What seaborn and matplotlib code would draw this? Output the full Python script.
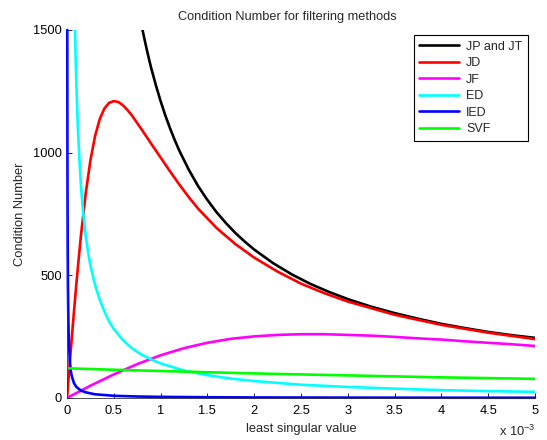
import matplotlib
matplotlib.use("Agg")
import matplotlib.pyplot as plt
import pandas as pd
import seaborn as sns

# least singular value, in units of 1e-3
jp_s = [0.78, 0.8, 0.82, 0.85, 0.88, 0.9, 0.95, 1.0, 1.05, 1.1, 1.15, 1.2,
        1.3, 1.4, 1.5, 1.6, 1.7, 1.8, 1.9, 2.0, 2.2, 2.4, 2.6, 2.8, 3.0,
        3.25, 3.5, 3.75, 4.0, 4.25, 4.5, 4.75, 5.0]
jp_v = [1551, 1513, 1476, 1424, 1375, 1344, 1274, 1210, 1152, 1100, 1052, 1008,
        931, 864, 807, 756, 712, 672, 637, 605, 550, 504, 465, 432, 403,
        372, 346, 323, 302, 285, 269, 256, 245]

jd_s = [0, 0.025, 0.05, 0.075, 0.1, 0.125, 0.15, 0.2, 0.25, 0.3, 0.35, 0.4,
        0.45, 0.5, 0.55, 0.6, 0.65, 0.7, 0.8, 0.9, 1.0, 1.1, 1.2, 1.3, 1.4,
        1.6, 1.8, 2.0, 2.25, 2.5, 2.75, 3.0, 3.5, 4.0, 4.5, 5.0]
jd_v = [0, 121, 240, 355, 465, 568, 666, 834, 968, 1068, 1137, 1180,
        1203, 1210, 1206, 1192, 1172, 1148, 1093, 1036, 980, 924, 870, 819, 772,
        692, 627, 572, 515, 466, 427, 393, 339, 298, 266, 240]

jf_s = [0, 0.1, 0.25, 0.5, 0.75, 1.0, 1.25, 1.5, 1.75, 2.0, 2.25, 2.5, 2.75,
        3.0, 3.25, 3.5, 3.75, 4.0, 4.25, 4.5, 4.75, 5.0]
jf_v = [0, 20, 50, 96, 138, 174, 203, 225, 241, 251, 257, 260, 260,
        257, 254, 249, 243, 238, 231, 225, 219, 212]

ed_s = [0.08, 0.085, 0.09, 0.095, 0.1, 0.11, 0.12, 0.135, 0.15, 0.175, 0.2,
        0.225, 0.25, 0.3, 0.35, 0.4, 0.45, 0.5, 0.6, 0.7, 0.8, 0.9, 1.0,
        1.25, 1.5, 1.75, 2.0, 2.5, 3.0, 3.5, 4.0, 4.5, 5.0]
ed_v = [1600, 1510, 1420, 1345, 1280, 1165, 1070, 955, 860, 745, 660,
        595, 540, 460, 400, 352, 312, 281, 235, 201, 176, 157, 141,
        112, 93, 79, 69, 54, 45, 38, 32, 28, 25]

ied_s = [0.003, 0.004, 0.005, 0.0075, 0.01, 0.015, 0.02, 0.03, 0.04,
         0.05, 0.075, 0.1, 0.15, 0.2, 0.3, 0.5, 0.75, 1.0, 1.5, 2.0, 3.0, 4.0, 5.0]
ied_v = [1500, 1125, 900, 600, 450, 300, 225, 150, 112,
         90, 60, 45, 30, 23, 15, 9, 6, 4.5, 3, 2.2, 1.5, 1.1, 0.9]

svf_s = [0, 0.5, 1.0, 1.5, 2.0, 2.5, 3.0, 3.5, 4.0, 4.5, 5.0]
svf_v = [121, 115, 110, 105, 100, 96, 92, 88, 84, 81, 78]

methods = ["JP and JT", "JD", "JF", "ED", "IED", "SVF"]
colors = ["#000000", "#ff0000", "#ff00ff", "#00ffff", "#0000ff", "#00ff00"]
series = [(jp_s, jp_v), (jd_s, jd_v), (jf_s, jf_v), (ed_s, ed_v),
          (ied_s, ied_v), (svf_s, svf_v)]

frames = []
for name, (s, v) in zip(methods, series):
    frames.append(pd.DataFrame({"s": s, "cond": v, "method": name}))
df = pd.concat(frames, ignore_index=True)

sns.set_style("ticks")
plt.rcParams["font.family"] = ["Liberation Sans", "DejaVu Sans"]
plt.rcParams["mathtext.fontset"] = "custom"
plt.rcParams["mathtext.rm"] = "Liberation Sans"

fig = plt.figure(figsize=(5.47, 4.40), dpi=100)
ax = fig.add_axes([0.1225, 0.0955, 0.8555, 0.8365])

sns.lineplot(data=df, x="s", y="cond", hue="method", hue_order=methods,
             palette=colors, linewidth=1.9, errorbar=None, ax=ax)

# the IED line hugs the y axis; keep it fully visible like the original
ax.get_lines()[4].set_clip_on(False)

ax.set_xlim(0, 5)
ax.set_ylim(0, 1500)
ax.set_xticks([0, 0.5, 1, 1.5, 2, 2.5, 3, 3.5, 4, 4.5, 5])
ax.set_xticklabels(["0", "0.5", "1", "1.5", "2", "2.5", "3", "3.5", "4", "4.5", "5"])
ax.set_yticks([0, 500, 1000, 1500])
ax.tick_params(direction="in", length=3.5, width=0.6, labelsize=9.3,
               colors="#000000")
ax.tick_params(axis="x", pad=5)
ax.tick_params(axis="y", pad=3.5)
for side in ["top", "right"]:
    ax.spines[side].set_visible(False)
for side in ["left", "bottom"]:
    ax.spines[side].set_linewidth(0.6)
    ax.spines[side].set_color("#333333")

ax.set_title("Condition Number for filtering methods", fontsize=9.2, pad=7, x=0.47)
ax.set_xlabel("least singular value", fontsize=9.3, labelpad=4.5)
ax.set_ylabel("Condition Number", fontsize=9.3, labelpad=5)
ax.text(1.0, -0.092, "x 10$^{\\mathregular{-3}}$", transform=ax.transAxes,
        ha="right", va="center", fontsize=9.3)

handles, labels = ax.get_legend_handles_labels()
leg = ax.legend(handles, labels, loc="upper right", fontsize=9,
                handlelength=3.2, handletextpad=0.55, labelspacing=0.36,
                borderpad=0.45, borderaxespad=0, fancybox=False, framealpha=1,
                edgecolor="#000000", bbox_to_anchor=(0.985, 0.986))
leg.get_frame().set_linewidth(0.8)

fig.savefig("out.png", dpi=100)
